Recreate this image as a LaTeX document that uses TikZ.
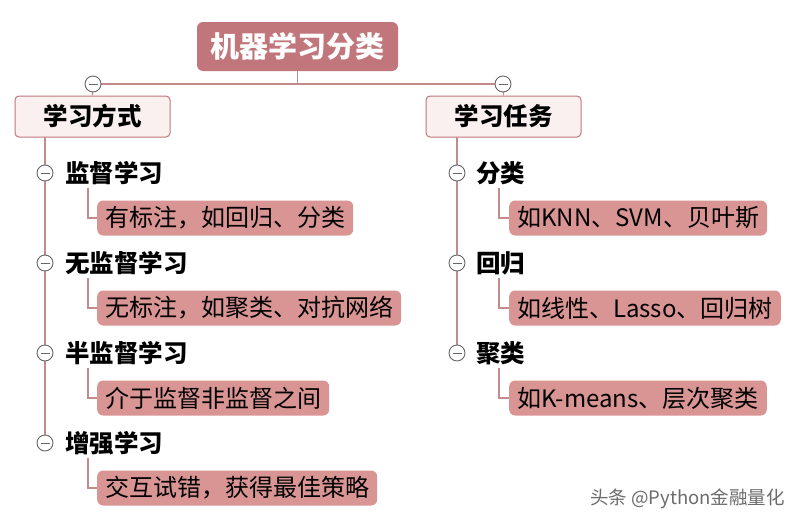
\documentclass[tikz,border=0pt]{standalone}
\usepackage{fontspec}
\setmainfont{Noto Sans CJK SC}
\begin{document}
\begin{tikzpicture}[x=1pt,y=-1pt,
  ln/.style={draw=lnc,line width=1.3pt},
  root/.style={fill=rootc,rounded corners=6pt,text=white,font=\fontsize{29}{31}\selectfont\bfseries,minimum width=201pt,minimum height=49pt,inner sep=0pt},
  cat/.style={fill=catc,draw=rootc,line width=1pt,rounded corners=4pt,font=\fontsize{24.5}{26}\selectfont\bfseries,minimum width=155pt,minimum height=41pt,inner sep=0pt},
  lab/.style={anchor=west,font=\fontsize{24.5}{26}\selectfont\bfseries,inner sep=0pt},
  leaf/.style={anchor=west,fill=leafc,rounded corners=6pt,font=\fontsize{24}{26}\selectfont,minimum height=35pt,inner xsep=8pt,inner ysep=0pt},
  tog/.style={circle,draw=gray!80!black,fill=white,line width=0.9pt,minimum size=16pt,inner sep=0pt,path picture={\draw[gray!80!black,line width=0.9pt] ([xshift=-4.5pt]path picture bounding box.center)--([xshift=4.5pt]path picture bounding box.center);}}]
\definecolor{rootc}{HTML}{C0767A}
\definecolor{catc}{HTML}{FAF0F0}
\definecolor{leafc}{HTML}{D99593}
\definecolor{lnc}{HTML}{C48A8C}
\useasboundingbox[fill=white] (0,0) rectangle (799,525);
\node[root] (r) at (297.5,46.5) {机器学习分类};
\coordinate (j) at (297.5,84);
\node[cat] (c1) at (92.5,116.5) {学习方式};
\node[cat] (c2) at (503.5,116.5) {学习任务};
\draw[ln] (r.south)--(j);
\draw[ln] (93,84)--(503,84);
\draw[ln] (93,84)--(c1.north);
\draw[ln] (503,84)--(c2.north);
\node[tog] (t1) at (93,84) {};
\node[tog] (t2) at (503,84) {};
% left
\draw[ln] (45,137)--(45,443);
\foreach \y/\l/\t/\n in {173/监督学习/有标注，如回归、分类/a,263/无监督学习/无标注，如聚类、对抗网络/b,353/半监督学习/介于监督非监督之间/c,443/增强学习/交互试错，获得最佳策略/d}{
  \node[lab] (l\n) at (65,\y) {\l};
  \node[leaf] (f\n) at (97,\y+45) {\t};
  \draw[ln] (88,\y+15)|-(f\n.west);
  \node[tog] (g\n) at (45,\y) {};
}
% right
\draw[ln] (457,137)--(457,353);
\foreach \y/\l/\t/\n in {173/分类/如KNN、SVM、贝叶斯/e,263/回归/如线性、Lasso、回归树/f,353/聚类/如K-means、层次聚类/g}{
  \node[lab] (l\n) at (476,\y) {\l};
  \node[leaf] (f\n) at (509,\y+45) {\t};
  \draw[ln] (499,\y+15)|-(f\n.west);
  \node[tog] (g\n) at (457,\y) {};
}
\node[anchor=east,text=gray!85!black,font=\fontsize{18.5}{20}\selectfont,inner sep=0pt] (wm) at (785,499) {头条 @Python金融量化};
\end{tikzpicture}
\end{document}
